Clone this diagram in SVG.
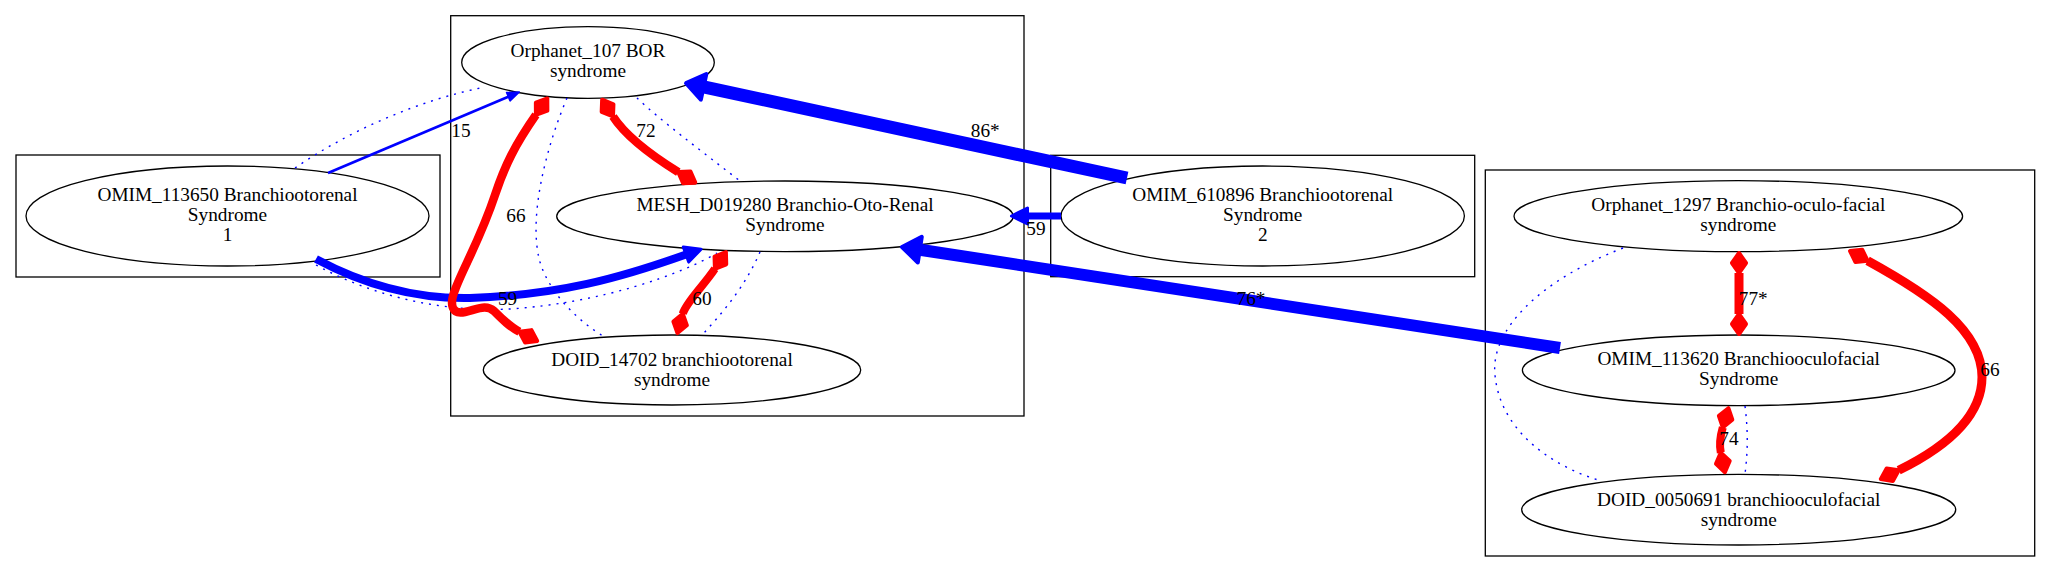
<svg xmlns="http://www.w3.org/2000/svg" width="2051" height="572" viewBox="0 0 2051 572">
<style>
.cl{fill:none;stroke:#000;stroke-width:1.3}
.nd{fill:#fff;stroke:#000;stroke-width:1.3}
.t{font-family:"Liberation Serif","Times New Roman",serif;font-size:19.3px;fill:#000;text-anchor:middle}
.dot{fill:none;stroke:#0000ff;stroke-width:1.4;stroke-dasharray:2 6}
.bl{fill:none;stroke:#0000ff}
.rd{fill:none;stroke:#ff0000;marker-start:url(#dia);marker-end:url(#dia)}
</style>
<defs>
<marker id="aThin" markerUnits="userSpaceOnUse" viewBox="-2 -8 18 16" markerWidth="18" markerHeight="16" refX="0" refY="0" orient="auto" overflow="visible"><path d="M0,-4.5 L12,0 L0,4.5 Z" fill="#0000ff" stroke="#0000ff" stroke-width="1.5" stroke-linejoin="round"/></marker>
<marker id="aMed" markerUnits="userSpaceOnUse" viewBox="-3 -12 22 24" markerWidth="22" markerHeight="24" refX="0" refY="0" orient="auto" overflow="visible"><path d="M0,-8 L16,0 L0,8 Z" fill="#0000ff" stroke="#0000ff" stroke-width="3" stroke-linejoin="round"/></marker>
<marker id="aHuge" markerUnits="userSpaceOnUse" viewBox="-3 -16 26 32" markerWidth="26" markerHeight="32" refX="0" refY="0" orient="auto" overflow="visible"><path d="M0,-13 L18,0 L0,13 Z" fill="#0000ff" stroke="#0000ff" stroke-width="4" stroke-linejoin="round"/></marker>
<marker id="dia" markerUnits="userSpaceOnUse" viewBox="-3 -10 26 20" markerWidth="26" markerHeight="20" refX="0" refY="0" orient="auto-start-reverse" overflow="visible"><path d="M0,0 L10,-7 L20,0 L10,7 Z" fill="#ff0000" stroke="#ff0000" stroke-width="4" stroke-linejoin="round"/></marker>
</defs>
<rect width="2051" height="572" fill="#fff"/>
<g id="clusters">
<rect class="cl" x="16" y="155" width="424" height="122"/>
<rect class="cl" x="450.7" y="15.7" width="573.3" height="400.3"/>
<rect class="cl" x="1050.7" y="155.3" width="424" height="121.4"/>
<rect class="cl" x="1485.3" y="170" width="549.4" height="386"/>
</g>
<g id="OMIM_113650">
<ellipse class="nd" cx="227.5" cy="216" rx="201.5" ry="50"/>
<text class="t" x="227.5" y="201">OMIM_113650 Branchiootorenal</text>
<text class="t" x="227.5" y="221">Syndrome</text>
<text class="t" x="227.5" y="241">1</text>
</g>
<g id="Orphanet_107">
<ellipse class="nd" cx="588" cy="62.5" rx="126.3" ry="35.8"/>
<text class="t" x="588" y="57.3">Orphanet_107 BOR</text>
<text class="t" x="588" y="77.3">syndrome</text>
</g>
<g id="MESH_D019280">
<ellipse class="nd" cx="785" cy="216.3" rx="228.3" ry="35.3"/>
<text class="t" x="785" y="211">MESH_D019280 Branchio-Oto-Renal</text>
<text class="t" x="785" y="231">Syndrome</text>
</g>
<g id="DOID_14702">
<ellipse class="nd" cx="672" cy="370" rx="188.7" ry="35"/>
<text class="t" x="672" y="365.5">DOID_14702 branchiootorenal</text>
<text class="t" x="672" y="385.5">syndrome</text>
</g>
<g id="OMIM_610896">
<ellipse class="nd" cx="1262.7" cy="216" rx="201.7" ry="50"/>
<text class="t" x="1262.7" y="201">OMIM_610896 Branchiootorenal</text>
<text class="t" x="1262.7" y="221">Syndrome</text>
<text class="t" x="1262.7" y="241">2</text>
</g>
<g id="Orphanet_1297">
<ellipse class="nd" cx="1738.3" cy="216.2" rx="224.3" ry="35.5"/>
<text class="t" x="1738.3" y="211">Orphanet_1297 Branchio-oculo-facial</text>
<text class="t" x="1738.3" y="231">syndrome</text>
</g>
<g id="OMIM_113620">
<ellipse class="nd" cx="1738.7" cy="370.3" rx="216.3" ry="35.3"/>
<text class="t" x="1738.7" y="365">OMIM_113620 Branchiooculofacial</text>
<text class="t" x="1738.7" y="385">Syndrome</text>
</g>
<g id="DOID_0050691">
<ellipse class="nd" cx="1738.7" cy="509.7" rx="217" ry="35.3"/>
<text class="t" x="1738.7" y="505.5">DOID_0050691 branchiooculofacial</text>
<text class="t" x="1738.7" y="525.5">syndrome</text>
</g>
<g id="connectors">
<path class="dot" d="M295,168 C350,130 420,100 483,87.5"/>
<path class="dot" d="M316,265 C380,300 450,312 510,309 C600,303 680,275 717,253"/>
<path class="dot" d="M567,98 C545,150 528,220 540,262 C550,295 580,322 603,336"/>
<path class="dot" d="M637,98 C660,120 700,150 740,181"/>
<path class="dot" d="M760,252 C748,280 730,305 702,335"/>
<path class="dot" d="M1623,248 C1540,280 1490,330 1495,375 C1500,430 1550,465 1598,480"/>
<path class="dot" d="M1745,406 C1748,430 1748,450 1745,474"/>
<path class="bl" stroke-width="2.6" marker-end="url(#aThin)" d="M328,173 L508.3,96.7"/>
<path class="bl" stroke-width="8" marker-end="url(#aMed)" d="M316,259 C370,288 420,299 470,298 C560,295 620,278 686,254.5"/>
<path class="bl" stroke-width="13" marker-end="url(#aHuge)" d="M1127,178 L703.6,86.9"/>
<path class="bl" stroke-width="7" marker-end="url(#aMed)" d="M1061,216 L1027.5,216"/>
<path class="bl" stroke-width="12" marker-end="url(#aHuge)" d="M1560,348 L919.8,249.7"/>
<path class="rd" stroke-width="8.5" d="M535.9,114.9 C515,145 505,165 495,195 C480,240 462,270 455,290 C449,305 452,315 465,312 C478,309 486,304 494,311 C503,320 510,327 519.4,331.8"/>
<path class="rd" stroke-width="8.5" d="M613,116.5 C626.6,137.5 657,158.9 678.3,172.1"/>
<path class="rd" stroke-width="8" d="M714.9,268.8 C703.9,285.5 686,302.2 682.8,313.8"/>
<path class="rd" stroke-width="9" d="M1739,273 L1739,314"/>
<path class="rd" stroke-width="8" d="M1722.8,427.4 C1720,437 1719,444 1720.8,452.6"/>
<path class="rd" stroke-width="9" d="M1867.6,260.7 C1930,295 1982,330 1982,377 C1982,420 1940,450 1898.7,470.3"/>
<text class="t" x="461" y="137">15</text>
<text class="t" x="646" y="137">72</text>
<text class="t" x="516" y="221.5">66</text>
<text class="t" x="507.6" y="305">59</text>
<text class="t" x="702" y="305">60</text>
<text class="t" x="985.3" y="136.5">86*</text>
<text class="t" x="1036" y="235">59</text>
<text class="t" x="1251" y="305">76*</text>
<text class="t" x="1753.3" y="305">77*</text>
<text class="t" x="1729" y="445">74</text>
<text class="t" x="1990" y="376">66</text>
</g>
</svg>
